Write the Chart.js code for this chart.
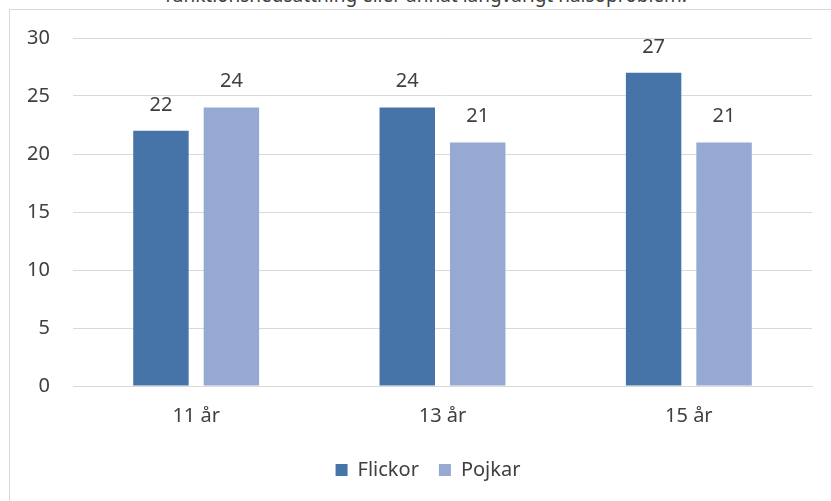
<!DOCTYPE html>
<html>
<head>
<meta charset="utf-8">
<script src="https://cdn.jsdelivr.net/npm/chart.js@4"></script>
<style>
  html, body { margin: 0; padding: 0; background: #fff; overflow: hidden; }
  #title {
    position: absolute; left: 0; width: 852px; top: -18px;
    text-align: center; font-family: "Noto Sans", sans-serif; font-size: 19px; color: #404040;
    white-space: nowrap;
  }
  #frame {
    position: absolute; left: 9px; top: 9px; width: 830px; height: 500px;
    border-top: 1px solid #d9d9d9; border-left: 1px solid #d9d9d9;
  }
  #wrap { position: absolute; left: 10px; top: 3px; width: 821px; height: 498px; }
</style>
</head>
<body>
<div id="title">funktionsnedsättning eller annat långvarigt hälsoproblem.</div>
<div id="frame"></div>
<div id="wrap"><canvas id="chart"></canvas></div>
<script>
// data
const ages = ['11 år', '13 år', '15 år'];
const flickor = [22, 24, 27];
const pojkar = [24, 21, 21];
const yTicks = [0, 5, 10, 15, 20, 25, 30];

const fontFamily = '"Noto Sans", sans-serif';
const textColor = '#404040';
const fontSize = 20;

// value labels above the bars
const barLabels = {
  id: 'barLabels',
  afterDatasetsDraw(chart) {
    const ctx = chart.ctx;
    ctx.save();
    ctx.font = fontSize + 'px ' + fontFamily;
    ctx.fillStyle = textColor;
    ctx.textAlign = 'center';
    ctx.textBaseline = 'middle';
    chart.data.datasets.forEach((ds, i) => {
      chart.getDatasetMeta(i).data.forEach((bar, j) => {
        ctx.fillText(ds.data[j], bar.x, bar.y - 26);
      });
    });
    ctx.restore();
  }
};

// the original legend sits a bit right of the plot centre
const legendShift = {
  id: 'legendShift',
  afterLayout(chart) {
    chart.legend.left += 17;
    chart.legend.right += 17;
  }
};

const data = {
  labels: ages,
  datasets: [
    { label: 'Flickor', data: flickor, backgroundColor: '#4674A9' },
    { label: 'Pojkar', data: pojkar, backgroundColor: '#95A9D2' }
  ]
};

const config = {
  type: 'bar',
  data: data,
  options: {
    responsive: false,
    animation: false,
    categoryPercentage: 0.572,
    barPercentage: 0.787,
    layout: { padding: { top: 28, right: 19, bottom: 11, left: 0 } },
    plugins: {
      legend: {
        position: 'bottom',
        labels: {
          boxWidth: 12, boxHeight: 12, padding: 20,
          color: textColor,
          font: { family: fontFamily, size: fontSize }
        }
      },
      tooltip: { enabled: false }
    },
    scales: {
      x: {
        grid: { display: false, drawTicks: false },
        border: { display: true, color: '#d9d9d9' },
        ticks: { color: textColor, padding: 18, font: { family: fontFamily, size: fontSize } },
        afterFit(scale) { scale.height = 54; }
      },
      y: {
        min: 0, max: 30,
        afterBuildTicks(scale) { scale.ticks = yTicks.map(v => ({ value: v })); },
        grid: { color: '#d9d9d9', drawTicks: false },
        border: { display: false },
        ticks: { color: textColor, padding: 23, font: { family: fontFamily, size: fontSize } },
        afterFit(scale) { scale.width = 63; }
      }
    }
  },
  plugins: [barLabels, legendShift]
};

const canvas = document.getElementById('chart');
canvas.width = 821;
canvas.height = 498;
var myChart = new Chart(canvas, config);
</script>
</body>
</html>
